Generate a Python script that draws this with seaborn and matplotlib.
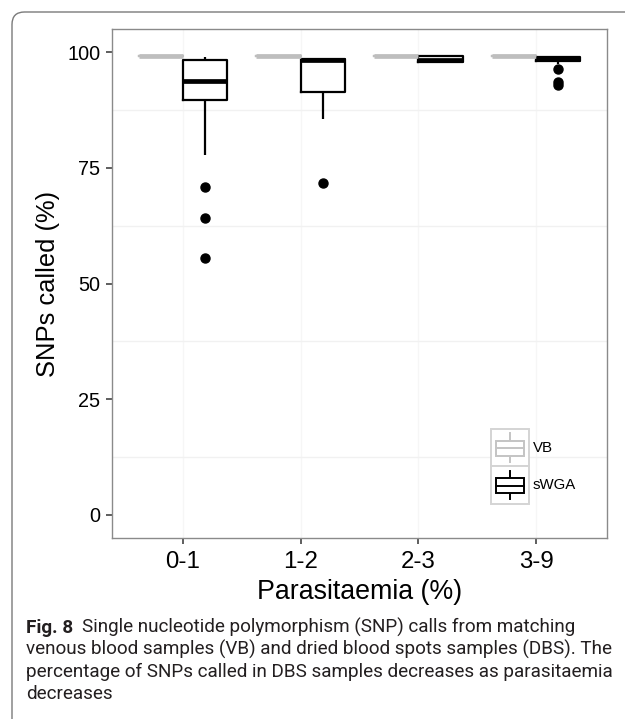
import numpy as np
import pandas as pd
import matplotlib
matplotlib.use("Agg")
import matplotlib.pyplot as plt
import seaborn as sns
from matplotlib.legend_handler import HandlerBase
from matplotlib.patches import Rectangle, Patch, FancyBboxPatch
from matplotlib.lines import Line2D

# ---------------- data ----------------
categories = ["0-1", "1-2", "2-3", "3-9"]
groups = ["VB", "sWGA"]

vb_01 = [99.1, 99.1, 99.1, 99.1, 99.1]
vb_12 = [99.1, 99.1, 99.1, 99.1, 99.1]
vb_23 = [99.1, 99.1, 99.1, 99.1, 99.1]
vb_39 = [99.1, 99.1, 99.1, 99.1, 99.1]

swga_01 = [55.5, 64.2, 70.8, 77.8, 89.6, 91.0, 92.5, 93.2, 93.75,
           94.5, 96.0, 97.5, 98.2, 98.5, 98.8, 98.9, 99.0]
swga_12 = [71.7, 85.6, 91.3, 95.0, 98.4, 98.5, 98.6, 98.7, 98.7]
swga_23 = [97.6, 97.8, 97.8, 98.1, 98.4, 98.8, 99.1, 99.2, 99.2]
swga_39 = [92.9, 93.6, 96.3, 97.5, 98.1, 98.2, 98.3, 98.4, 98.5,
           98.6, 98.7, 98.8, 98.9, 99.0, 99.0, 99.1, 99.1]

yticks = [0, 25, 50, 75, 100]
x_title = "Parasitaemia (%)"
y_title = "SNPs called (%)"
caption_bold = "Fig. 8"
caption_lines = [
    "Single nucleotide polymorphism (SNP) calls from matching",
    "venous blood samples (VB) and dried blood spots samples (DBS). The",
    "percentage of SNPs called in DBS samples decreases as parasitaemia",
    "decreases",
]

series = {
    ("0-1", "VB"): vb_01, ("1-2", "VB"): vb_12, ("2-3", "VB"): vb_23, ("3-9", "VB"): vb_39,
    ("0-1", "sWGA"): swga_01, ("1-2", "sWGA"): swga_12, ("2-3", "sWGA"): swga_23, ("3-9", "sWGA"): swga_39,
}
rows = []
for (cat, grp), vals in series.items():
    for v in vals:
        rows.append({"Parasitaemia": cat, "Sample": grp, "SNPs": v})
df = pd.DataFrame(rows)

# ---------------- figure ----------------
W, H, DPI = 625, 719, 100
fig = plt.figure(figsize=(W / DPI, H / DPI), dpi=DPI)
fig.patch.set_facecolor("white")

def fx(px):
    return px / W

def fy(py):
    return 1 - py / H

ax_l, ax_r, ax_t, ax_b = 112, 607, 29, 538
ax = fig.add_axes([fx(ax_l), fy(ax_b), fx(ax_r - ax_l), (ax_b - ax_t) / H])

VB_COLOR = "#BEBEBE"
palette = {"VB": VB_COLOR, "sWGA": "black"}

sns.boxplot(
    data=df, x="Parasitaemia", y="SNPs", hue="Sample",
    order=categories, hue_order=groups, palette=palette,
    fill=False, width=0.75, gap=0, linewidth=1.6, showcaps=False,
    medianprops=dict(linewidth=3.4),
    flierprops=dict(marker="o", markersize=6.5, markerfacecolor="black",
                    markeredgecolor="black"),
    legend=False, ax=ax,
)
for ln in ax.lines:
    if ln.get_marker() == "o":
        ln.set_markerfacecolor("black")
        ln.set_markeredgecolor("black")
        ln.set_markersize(6.5)

ax.set_xlim(-0.6, 3.6)
ax.set_ylim(-5, 105)
ax.set_yticks(yticks)
ax.set_yticks([12.5, 37.5, 62.5, 87.5], minor=True)
ax.set_axisbelow(True)
ax.grid(which="minor", axis="y", color="#F1F1F1", linewidth=1.0)
ax.grid(which="major", axis="x", color="#F6F6F6", linewidth=1.0)
ax.grid(which="major", axis="y", visible=False)

for sp in ax.spines.values():
    sp.set_color("#8A8A8A")
    sp.set_linewidth(1.0)

ax.tick_params(axis="both", which="major", length=4.5, width=1.1, color="#333333")
ax.tick_params(axis="both", which="minor", length=0)
ax.tick_params(axis="y", labelsize=14.3, pad=4)
ax.tick_params(axis="x", labelsize=17.3, pad=5)
for lab in ax.get_xticklabels() + ax.get_yticklabels():
    lab.set_fontfamily("Liberation Sans")
    lab.set_color("black")

ax.set_xlabel(x_title, fontsize=19.3, family="Liberation Sans", labelpad=4)
ax.set_ylabel(y_title, fontsize=18.4, family="Liberation Sans", labelpad=5)

# ---------------- legend with box glyphs ----------------
class BoxHandler(HandlerBase):
    def __init__(self, color):
        super().__init__()
        self.color = color

    def create_artists(self, legend, orig_handle, xdescent, ydescent,
                       width, height, fontsize, trans):
        x0, y0 = -xdescent, -ydescent
        arts = []
        bg = Rectangle((x0, y0), width, height, facecolor="white",
                       edgecolor="#D4D4D4", lw=1.4, transform=trans)
        arts.append(bg)
        bx0, bx1 = x0 + 0.13 * width, x0 + 0.885 * width
        by0, by1 = y0 + 0.28 * height, y0 + 0.68 * height
        box = Rectangle((bx0, by0), bx1 - bx0, by1 - by0, facecolor="white",
                        edgecolor=self.color, lw=1.4, transform=trans)
        med = Line2D([bx0, bx1], [y0 + 0.48 * height] * 2, color=self.color,
                     lw=1.4, transform=trans)
        cx = x0 + 0.5 * width
        w_top = Line2D([cx, cx], [by1, y0 + 0.88 * height], color=self.color,
                       lw=1.4, transform=trans)
        w_bot = Line2D([cx, cx], [by0, y0 + 0.12 * height], color=self.color,
                       lw=1.4, transform=trans)
        arts += [w_top, w_bot, box, med]
        return arts

h_vb = Patch(label="VB")
h_sw = Patch(label="sWGA")
leg = ax.legend(
    handles=[h_vb, h_sw], labels=groups,
    handler_map={h_vb: BoxHandler("#C4C4C4"), h_sw: BoxHandler("black")},
    loc="upper left", bbox_to_anchor=(fx(491), fy(428.5)),
    bbox_transform=fig.transFigure, frameon=False,
    handlelength=2.5, handleheight=3.48, labelspacing=0.0,
    handletextpad=0.3, borderpad=0, borderaxespad=0,
    prop={"family": "Liberation Sans", "size": 10.8},
)

# ---------------- outer rounded frame ----------------
frame = FancyBboxPatch((fx(12), fy(760)), fx(700), (760 - 12) / H,
                       boxstyle="round,pad=0,rounding_size=0.02",
                       transform=fig.transFigure, facecolor="none",
                       edgecolor="#7A7A7A", lw=1.0, clip_on=False,
                       mutation_aspect=W / H)
fig.patches.append(frame)

# ---------------- caption ----------------
cap_font = "Roboto"
cap_color = "#231F20"
renderer = fig.canvas.get_renderer()
probe = fig.text(0, 0, caption_lines[1], family=cap_font, fontsize=10)
pw = probe.get_window_extent(renderer).width
probe.remove()
cap_size = 10 * (613 - 26) / pw

baselines = [633, 655, 677, 699]
t_bold = fig.text(fx(26), fy(baselines[0]), caption_bold, family=cap_font,
                  weight="bold", fontsize=cap_size, color=cap_color, va="baseline")
bw = t_bold.get_window_extent(renderer).width
fig.text(fx(26 + bw + 9), fy(baselines[0]), caption_lines[0], family=cap_font,
         fontsize=cap_size, color=cap_color, va="baseline")
for line, b in zip(caption_lines[1:], baselines[1:]):
    fig.text(fx(26), fy(b), line, family=cap_font, fontsize=cap_size,
             color=cap_color, va="baseline")

fig.savefig("out.png", dpi=DPI, facecolor="white")
